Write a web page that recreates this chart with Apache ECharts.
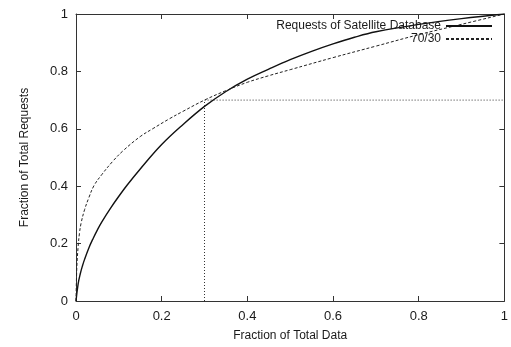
<!DOCTYPE html>
<html>
<head>
<meta charset="utf-8">
<script src="https://cdn.jsdelivr.net/npm/echarts@6/dist/echarts.min.js"></script>
<style>
  html, body { margin: 0; padding: 0; background: #fff; }
  #chart { width: 511px; height: 347px; }
</style>
</head>
<body>
<div id="chart"></div>
<script>
// Cumulative request share vs. share of data (sorted by popularity)
const satelliteX = [0, 0.005, 0.01, 0.015, 0.02, 0.03, 0.04, 0.05, 0.06, 0.08, 0.1, 0.12, 0.15, 0.2, 0.25, 0.3, 0.35, 0.4, 0.45, 0.5, 0.55, 0.6, 0.65, 0.7, 0.8, 0.9, 1];
const satelliteY = [0, 0.06, 0.095, 0.122, 0.145, 0.185, 0.218, 0.248, 0.275, 0.322, 0.365, 0.405, 0.46, 0.545, 0.615, 0.678, 0.73, 0.773, 0.808, 0.841, 0.87, 0.896, 0.919, 0.938, 0.964, 0.984, 1];

// Reference 70/30 distribution curve
const ruleX = [0, 0.002, 0.005, 0.008, 0.012, 0.02, 0.03, 0.042, 0.06, 0.086, 0.111, 0.15, 0.18, 0.217, 0.25, 0.3, 0.35, 0.4, 0.45, 0.5, 0.6, 0.7, 0.8, 0.9, 1];
const ruleY = [0, 0.12, 0.19, 0.235, 0.272, 0.318, 0.36, 0.402, 0.44, 0.487, 0.525, 0.573, 0.601, 0.634, 0.661, 0.7, 0.733, 0.762, 0.785, 0.806, 0.848, 0.888, 0.928, 0.964, 1];

// 30% of the data serving 70% of the requests
const markerX = [0.3, 0.3, 1];
const markerY = [0, 0.7, 0.7];

const seriesNames = ['Requests of Satellite Database', '70/30'];

const zip = (xs, ys) => xs.map((x, i) => [x, ys[i]]);

const FONT = "'Liberation Sans', Arial, Helvetica, sans-serif";
const INK = '#1a1a1a';
const tickText = v => String(+v.toFixed(1));

function axisBase(extra) {
  return Object.assign({
    type: 'value',
    min: 0,
    max: 1,
    interval: 0.2,
    splitLine: { show: false },
    axisLine: { show: true, onZero: false, lineStyle: { color: '#333', width: 1 } },
    axisTick: { show: true, inside: true, length: 5, lineStyle: { color: '#333' } },
    axisLabel: { show: false }
  }, extra);
}

const legendBase = {
  align: 'right',
  itemWidth: 46, itemHeight: 10, itemGap: 0,
  itemStyle: { opacity: 0 },
  textStyle: { fontFamily: FONT, fontSize: 12, color: INK }
};

const chart = echarts.init(document.getElementById('chart'), null, { renderer: 'canvas' });

chart.setOption({
  backgroundColor: '#fff',
  animation: false,
  grid: { left: 76, right: 2, top: 14, bottom: 45, containLabel: false },
  legend: [
    Object.assign({ data: [seriesNames[0]], right: 13, top: 15 }, legendBase),
    Object.assign({ data: [seriesNames[1]], right: 13, top: 28 }, legendBase)
  ],
  xAxis: [
    axisBase({
      position: 'bottom',
      name: 'Fraction of Total Data',
      nameLocation: 'middle',
      nameGap: 29,
      nameTextStyle: { fontFamily: FONT, fontSize: 12, color: INK },
      axisLabel: { show: true, fontFamily: FONT, fontSize: 13, color: INK, margin: 9, formatter: tickText }
    }),
    axisBase({ position: 'top' })
  ],
  yAxis: [
    axisBase({
      position: 'left',
      name: 'Fraction of Total Requests',
      nameLocation: 'middle',
      nameGap: 45,
      nameTextStyle: { fontFamily: FONT, fontSize: 12, color: INK },
      axisLabel: { show: true, fontFamily: FONT, fontSize: 13, color: INK, margin: 8, formatter: tickText }
    }),
    axisBase({ position: 'right' })
  ],
  series: [
    {
      name: seriesNames[0],
      type: 'line',
      data: zip(satelliteX, satelliteY),
      symbol: 'none',
      smooth: 0.4,
      lineStyle: { color: '#111', width: 1.4, type: 'solid' },
      itemStyle: { color: '#111' }
    },
    {
      name: seriesNames[1],
      type: 'line',
      data: zip(ruleX, ruleY),
      symbol: 'none',
      smooth: 0.4,
      lineStyle: { color: '#222', width: 1, type: [3, 2] },
      itemStyle: { color: '#222' }
    },
    {
      name: 'cutoff',
      type: 'line',
      data: zip(markerX, markerY),
      symbol: 'none',
      silent: true,
      lineStyle: { color: '#333', width: 1, type: [1, 2] }
    }
  ]
});
</script>
</body>
</html>
